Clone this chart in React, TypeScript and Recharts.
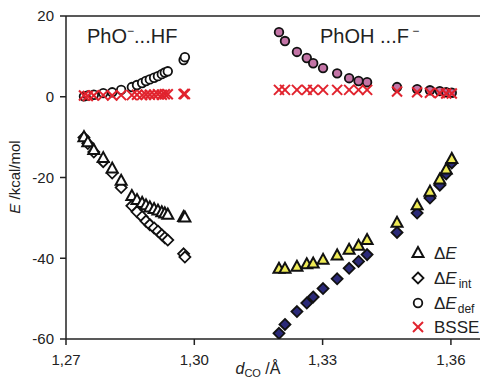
import React from 'react';
import { ScatterChart, Scatter, XAxis, YAxis, ReferenceLine } from 'recharts';

// PhO−...HF cluster
const leftX = [1.2742, 1.2751, 1.2765, 1.2787, 1.2808, 1.2829, 1.2854, 1.2866, 1.2878, 1.2887, 1.2896, 1.2906, 1.2915, 1.2924, 1.2931, 1.2938, 1.2975, 1.2978];
const leftDE = [-10.0, -11.3, -13.2, -15.2, -17.8, -20.8, -24.6, -25.6, -26.3, -26.9, -27.4, -27.8, -28.2, -28.6, -28.9, -29.2, -29.8, -29.9];
const leftDEint = [-10.1, -11.6, -13.7, -16.1, -18.9, -22.5, -27.0, -28.5, -29.7, -30.8, -31.7, -32.5, -33.3, -34.2, -34.9, -35.5, -38.9, -39.7];
const leftDEdef = [0.1, 0.3, 0.5, 0.9, 1.1, 1.7, 2.4, 2.9, 3.4, 3.9, 4.3, 4.7, 5.1, 5.6, 6.0, 6.3, 9.1, 9.8];
const leftBSSE = [0.3, 0.2, 0.3, 0.4, 0.3, 0.4, 0.4, 0.5, 0.4, 0.5, 0.5, 0.5, 0.6, 0.5, 0.6, 0.6, 0.7, 0.7];

// PhOH...F− cluster
const rightX = [1.3198, 1.3212, 1.3240, 1.3263, 1.3278, 1.3301, 1.3334, 1.3362, 1.3384, 1.3404, 1.3474, 1.3521, 1.3551, 1.3574, 1.3589, 1.3602];
const rightDE = [-42.6, -42.6, -42.1, -41.5, -41.3, -40.4, -39.3, -37.9, -36.9, -35.5, -31.2, -26.9, -23.5, -20.5, -18.0, -15.4];
const rightDEint = [-58.6, -56.4, -53.2, -51.1, -49.6, -47.5, -45.1, -42.5, -40.8, -39.1, -33.6, -28.8, -25.1, -21.9, -19.1, -16.4];
const rightDEdef = [16.0, 13.8, 11.1, 9.6, 8.3, 7.1, 5.8, 4.6, 3.9, 3.6, 2.4, 1.9, 1.6, 1.4, 1.1, 1.0];
const rightBSSE = [1.7, 1.7, 1.7, 1.7, 1.7, 1.7, 1.7, 1.7, 1.7, 1.7, 1.3, 1.1, 1.0, 0.9, 0.8, 0.8];

const xTicks = [1.27, 1.30, 1.33, 1.36];
const yTicks = [-60, -40, -20, 0, 20];

const pts = (xs: number[], ys: number[]) => xs.map((x, i) => ({ x, y: ys[i] }));

const STROKE = '#111';
const RED = '#e1232e';

const Tri = (fill: string) => (p: any) => {
  const { cx, cy } = p;
  return (
    <polygon
      points={`${cx},${cy - 6} ${cx - 5.5},${cy + 4} ${cx + 5.5},${cy + 4}`}
      fill={fill}
      stroke={STROKE}
      strokeWidth={2}
      strokeLinejoin="miter"
    />
  );
};
const Dia = (fill: string) => (p: any) => {
  const { cx, cy } = p;
  return (
    <polygon
      points={`${cx},${cy - 5.5} ${cx + 5.5},${cy} ${cx},${cy + 5.5} ${cx - 5.5},${cy}`}
      fill={fill}
      stroke={STROKE}
      strokeWidth={1.8}
    />
  );
};
const Circ = (fill: string) => (p: any) => {
  const { cx, cy } = p;
  return <circle cx={cx} cy={cy} r={4.3} fill={fill} stroke={STROKE} strokeWidth={1.8} />;
};
const Cross = (p: any) => {
  const { cx, cy } = p;
  return (
    <g stroke={RED} strokeWidth={2}>
      <line x1={cx - 5} y1={cy - 5} x2={cx + 5} y2={cy + 5} />
      <line x1={cx - 5} y1={cy + 5} x2={cx + 5} y2={cy - 5} />
    </g>
  );
};

const fmt = (v: number) => v.toFixed(2).replace('.', ',');
const FONT = '"Liberation Sans", Arial, sans-serif';

export default function App() {
  return (
    <div style={{ position: 'absolute', left: 0, top: 0, width: 482, height: 381, background: '#fff', fontFamily: FONT }}>
      <ScatterChart width={482} height={381} margin={{ top: 16, right: 2, bottom: 12, left: 0 }}>
        <XAxis
          type="number"
          dataKey="x"
          domain={[1.27, 1.3668]}
          ticks={xTicks}
          tickFormatter={fmt}
          allowDataOverflow
          height={30}
          tickSize={6}
          tickMargin={9}
          stroke="#222"
          strokeWidth={1.5}
          tick={{ fill: '#222', fontSize: 15, fontFamily: FONT }}
        />
        <YAxis
          type="number"
          dataKey="y"
          domain={[-60, 20]}
          ticks={yTicks}
          allowDataOverflow
          width={66}
          tickSize={6}
          tickMargin={6}
          stroke="#222"
          strokeWidth={1.5}
          tick={{ fill: '#222', fontSize: 15, fontFamily: FONT }}
        />
        <ReferenceLine y={20} stroke="#222" strokeWidth={1.5} />
        <Scatter data={pts(leftX, leftDEint)} shape={Dia('#fff')} isAnimationActive={false} />
        <Scatter data={pts(rightX, rightDEint)} shape={Dia('#2b2a78')} isAnimationActive={false} />
        <Scatter data={pts(leftX, leftDE)} shape={Tri('#fff')} isAnimationActive={false} />
        <Scatter data={pts(rightX, rightDE)} shape={Tri('#eeea55')} isAnimationActive={false} />
        <Scatter data={pts(leftX, leftDEdef)} shape={Circ('#fff')} isAnimationActive={false} />
        <Scatter data={pts(rightX, rightDEdef)} shape={Circ('#c374a6')} isAnimationActive={false} />
        <Scatter data={pts(leftX, leftBSSE)} shape={Cross} isAnimationActive={false} />
        <Scatter data={pts(rightX, rightBSSE)} shape={Cross} isAnimationActive={false} />
      </ScatterChart>
      <svg width={482} height={381} style={{ position: 'absolute', left: 0, top: 0, pointerEvents: 'none' }} fontFamily={FONT}>
        <text x={87} y={43} fontSize={20} fill="#222">
          PhO<tspan dy={-8} fontSize={12}>−</tspan><tspan dy={8}>...HF</tspan>
        </text>
        <text x={320} y={43} fontSize={20} fill="#222">
          PhOH ...F<tspan dy={-8} fontSize={12}> −</tspan>
        </text>
        <text x={20} y={177} fontSize={15} fill="#222" textAnchor="middle" transform="rotate(-90 20 177)">
          <tspan fontStyle="italic">E</tspan> /kcal/mol
        </text>
        <text x={258} y={374} fontSize={16} fill="#222" textAnchor="middle">
          <tspan fontStyle="italic">d</tspan><tspan fontSize={11} dy={3}>CO</tspan><tspan dy={-3}> /Å</tspan>
        </text>
        {/* legend */}
        <g>
          {Tri('#fff')({ cx: 418, cy: 253 })}
          <text x={434} y={259} fontSize={17} fill="#222">Δ<tspan fontStyle="italic">E</tspan></text>
          {Dia('#fff')({ cx: 418, cy: 278 })}
          <text x={434} y={284} fontSize={17} fill="#222">Δ<tspan fontStyle="italic">E</tspan><tspan fontSize={12} dy={4} dx={2}>int</tspan></text>
          {Circ('#fff')({ cx: 418, cy: 303 })}
          <text x={434} y={309} fontSize={17} fill="#222">Δ<tspan fontStyle="italic">E</tspan><tspan fontSize={12} dy={4} dx={1}>def</tspan></text>
          {Cross({ cx: 418, cy: 327 })}
          <text x={434} y={333} fontSize={17} fill="#222">BSSE</text>
        </g>
      </svg>
    </div>
  );
}
